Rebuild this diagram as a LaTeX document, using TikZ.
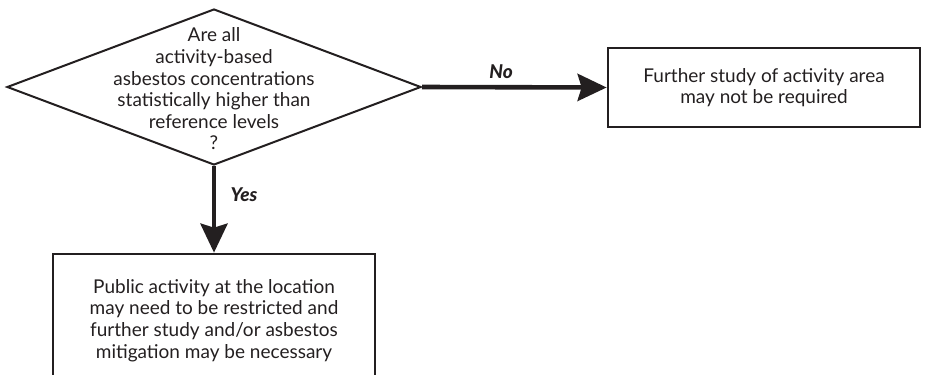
\documentclass[tikz,border=0pt]{standalone}
\usepackage{fontspec}
\setmainfont{Lato}
\newfontfamily\labfont{Lato Black Italic}
\usetikzlibrary{shapes.geometric,arrows.meta}
\definecolor{ink}{HTML}{231F20}
\tikzset{
  txt/.style={font=\fontsize{19}{21.6}\selectfont, text=ink, align=center},
  decision/.style={diamond, draw=ink, line width=2pt, inner sep=0pt},
  outbox/.style={rectangle, draw=ink, line width=2.7pt, inner sep=0pt, txt},
  flow/.style={draw=ink, line width=4.6pt, -{Stealth[length=29pt,width=27pt,inset=4pt]}},
  lab/.style={font=\labfont\fontsize{19}{21}\selectfont, text=ink}
}
\begin{document}
\begin{tikzpicture}[x=1pt,y=-1pt]
\useasboundingbox (0,0) rectangle (938,375);
\node[decision, minimum width=414pt, minimum height=156pt] (q) at (214,87) {};
\node[txt] (qt) at (214,89) {Are all\\activity-based\\asbestos concentrations\\statistically higher than\\reference levels\\?};
\node[outbox, minimum width=312pt, minimum height=79pt] (b2) at (764,87.5) {Further study of activity area\\may not be required};
\node[outbox, minimum width=322pt, minimum height=133pt] (b3) at (214,320.5) {Public activity at the location\\may need to be restricted and\\further study and/or asbestos\\mitigation may be necessary};
\draw[flow] (q.east) -- (b2.west);
\draw[flow] (q.south) -- (b3.north);
\node[lab] (no) at (501,72) {No};
\node[lab] (yes) at (244,195) {Yes};
\end{tikzpicture}
\end{document}
